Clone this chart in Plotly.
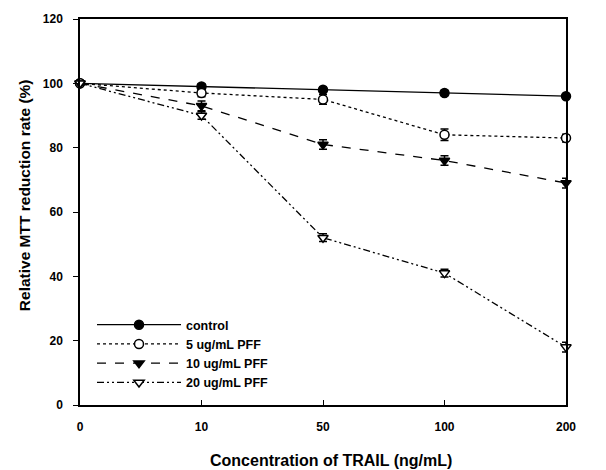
import plotly.graph_objects as go

categories = ["0", "10", "50", "100", "200"]
control = [100, 99, 98, 97, 96]
pff5 = [100, 97, 95, 84, 83]
pff10 = [100, 93, 81, 76, 69]
pff20 = [100, 90, 52, 41, 18]
err_control = [0.5, 0.8, 0.8, 0.8, 0.8]
err5 = [0.5, 1.2, 1.5, 1.8, 1.2]
err10 = [0.5, 1.5, 1.5, 1.5, 1.5]
err20 = [0.5, 1.2, 1.2, 1.2, 1.5]
names = ["control", "5 ug/mL PFF", "10 ug/mL PFF", "20 ug/mL PFF"]
y_ticks = [0, 20, 40, 60, 80, 100, 120]

xi = list(range(len(categories)))
FONT = "Liberation Sans, Arial, sans-serif"

specs = [
    (control, err_control, "solid", "circle", "black"),
    (pff5, err5, "dot", "circle", "white"),
    (pff10, err10, "dash", "triangle-down", "black"),
    (pff20, err20, "7px,3px,2px,3px,2px,3px", "triangle-down", "white"),
]

fig = go.Figure()
for name, (vals, err, dash, sym, fill) in zip(names, specs):
    fig.add_trace(go.Scatter(
        x=xi, y=vals, name=name, mode="lines+markers",
        line=dict(color="black", width=1.3, dash=dash),
        marker=dict(symbol=sym, size=9, color=fill, line=dict(color="black", width=1.5)),
        error_y=dict(type="data", array=err, color="black", thickness=1.5, width=4),
        cliponaxis=False,
    ))

fig.update_layout(
    width=606, height=470,
    margin=dict(l=80, r=40, t=15, b=65),
    plot_bgcolor="white", paper_bgcolor="white",
    font=dict(family=FONT, size=12, color="black", weight="bold"),
    showlegend=True,
    legend=dict(x=0.0247, y=0.246, xanchor="left", yanchor="top",
                bgcolor="rgba(0,0,0,0)", font=dict(size=12.5, weight="bold"),
                itemwidth=84, tracegroupgap=0),
    xaxis=dict(range=[0, 4], tickvals=xi, ticktext=categories,
               showline=True, linecolor="black", linewidth=1.5, mirror=True,
               ticks="inside", ticklen=5, tickcolor="black", showgrid=False, zeroline=False,
               ticklabelstandoff=10),
    yaxis=dict(range=[0, 120], tickvals=y_ticks,
               showline=True, linecolor="black", linewidth=1.5, mirror=True,
               ticks="outside", ticklen=5, tickcolor="black", showgrid=False, zeroline=False,
               ticklabelstandoff=8),
    annotations=[
        dict(text="Concentration of TRAIL (ng/mL)", xref="paper", yref="paper",
             x=0.516, y=-0.1436, xanchor="center", yanchor="middle", showarrow=False,
             font=dict(size=16, weight="bold")),
        dict(text="Relative MTT reduction rate (%)", xref="paper", yref="paper",
             x=-0.1152, y=0.5436, xanchor="center", yanchor="middle", showarrow=False,
             textangle=-90, font=dict(size=15.5, weight="bold")),
    ],
)

fig.write_html("out.html")
